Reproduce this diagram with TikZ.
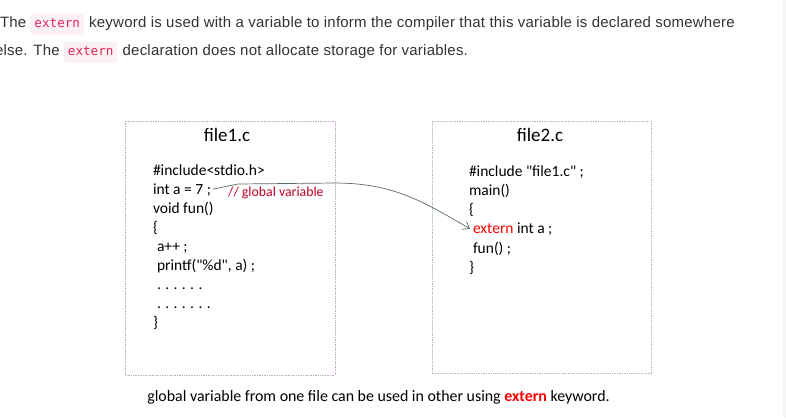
\documentclass[tikz,border=0pt]{standalone}
\usepackage{fontspec}
\setmainfont{Liberation Sans}[LetterSpace=1.5]
\newfontfamily\calfont{Carlito}
\newfontfamily\monofont{DejaVu Sans Mono}
\usetikzlibrary{arrows.meta}
\definecolor{codepink}{HTML}{FBF1F3}
\definecolor{codetext}{HTML}{E0245E}
\definecolor{bodytext}{HTML}{333333}
\definecolor{boxone}{HTML}{C4A8CC}
\definecolor{boxtwo}{HTML}{B0BCB8}
\definecolor{cmtred}{HTML}{C0002A}
\definecolor{linkline}{HTML}{5A6E60}
\definecolor{strip}{HTML}{F5F5F5}
\newcommand\dotgap{\hspace{4.4pt}}
\tikzset{
  para/.style={inner sep=0pt, outer sep=0pt, anchor=base west, text=bodytext, font=\fontsize{15}{18}\selectfont},
  codebx/.style={fill=codepink, rounded corners=3pt, text=codetext, font=\monofont\fontsize{12.6}{15}\selectfont, inner xsep=4pt, inner ysep=0pt, minimum height=21pt, anchor=base west, text depth=4pt, text height=11pt},
  filebox/.style={densely dotted, line width=0.7pt},
  title/.style={inner sep=0pt, anchor=base, font=\calfont\fontsize{19}{22}\selectfont},
  codeln/.style={inner sep=0pt, outer sep=0pt, anchor=base west, font=\calfont\fontsize{15.5}{19}\selectfont},
  cmt/.style={inner sep=0pt, anchor=base west, text=cmtred, font=\calfont\fontsize{13.8}{16}\selectfont},
}
\begin{document}
\begin{tikzpicture}[x=1pt,y=-1pt]
\useasboundingbox (0,0) rectangle (786,418);
\fill[white] (0,0) rectangle (786,418);
\fill[strip] (783,0) rectangle (786,418);
\begin{scope}
\clip (0,0) rectangle (783,418);
% paragraph line 1
\node[para] (p1a) at (0,27.5) {The};
\node[codebx] (c1) at ([xshift=4pt]p1a.base east) {extern};
\node[para] (p1b) at ([xshift=5pt]c1.base east) {keyword is used with a variable to inform the compiler that this variable is declared somewhere};
% paragraph line 2
\node[para] (p2a) at (-5,55.5) {else. The};
\node[codebx] (c2) at ([xshift=4pt]p2a.base east) {extern};
\node[para] (p2b) at ([xshift=5pt]c2.base east) {declaration does not allocate storage for variables.};
\end{scope}
% boxes
\draw[filebox, draw=boxone] (125,121) rectangle (335,375);
\draw[filebox, draw=boxtwo] (432,121) rectangle (651,373);
\node[title] (t1) at (227,141) {file1.c};
\node[title] (t2) at (540,141) {file2.c};
% file1 code
\node[codeln] (l1) at (153,175) {\#include<stdio.h>};
\node[codeln] (l2) at (153,194.5) {int a = 7 ;};
\node[cmt] (cm) at (228,196.5) {// global variable};
\node[codeln] (l3) at (153,213.5) {void fun()};
\node[codeln] (l4) at (153,232.5) {\{};
\node[codeln] (l5) at (157,251.5) {a++ ;};
\node[codeln] (l6) at (157,270.5) {printf("\%d", a) ;};
\node[codeln] (l7) at (157,289.5) {.\dotgap.\dotgap.\dotgap.\dotgap.\dotgap.};
\node[codeln] (l8) at (157,308.5) {.\dotgap.\dotgap.\dotgap.\dotgap.\dotgap.\dotgap.};
\node[codeln] (l9) at (153,327.5) {\}};
% file2 code
\node[codeln] (r1) at (469,176) {\#include "file1.c" ;};
\node[codeln] (r2) at (469,195.5) {main()};
\node[codeln] (r3) at (469,214.5) {\{};
\node[codeln, text=red] (r4a) at (473,233.5) {extern};
\node[codeln] (r4b) at ([xshift=3.5pt]r4a.base east) {int a ;};
\node[codeln] (r5) at (473,253) {fun() ;};
\node[codeln] (r6) at (469,272) {\}};
% connector
\coordinate (k1) at (238,184);
\coordinate (k2) at (335,183);
\draw[linkline, line width=0.7pt, -{Straight Barb[length=6pt,width=9pt,line width=0.7pt]}]
  ([xshift=2pt,yshift=1pt]l2.east) -- (k1) -- (k2) .. controls (395,183) and (425,203) .. ([xshift=-3pt]r4a.west);
% caption
\node[inner sep=0pt, anchor=base, font=\calfont\fontsize{15.9}{18}\selectfont] (cap) at (378.5,401)
  {global variable from one file can be used in other using \textcolor{red}{\textbf{extern}} keyword.};
\end{tikzpicture}
\end{document}
